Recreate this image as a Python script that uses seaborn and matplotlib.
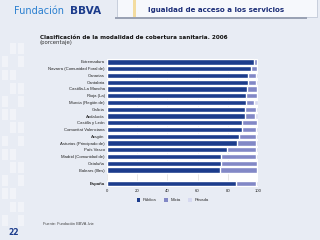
import matplotlib
matplotlib.use("Agg")
import matplotlib.pyplot as plt
import seaborn as sns
import pandas as pd
from matplotlib.patches import Rectangle, Patch

regions = ["Extremadura", "Navarra (Comunidad Foral de)", "Canarias", "Cantabria",
           "Castilla-La Mancha", "Rioja (La)", "Murcia (Región de)", "Galicia",
           "Andalucía", "Castilla y León", "Comunitat Valenciana", "Aragón",
           "Asturias (Principado de)", "País Vasco", "Madrid (Comunidad de)",
           "Cataluña", "Balears (Illes)", "España"]
publica = [97.4, 95.1, 93.4, 93.2, 93.0, 92.3, 91.9, 91.4, 91.2, 89.3, 89.6,
           87.4, 86.4, 79.6, 75.6, 75.3, 74.7, 85.5]
mixta = [1.8, 4.2, 5.5, 5.8, 6.2, 6.8, 5.5, 7.6, 6.8, 9.8, 9.4,
         11.6, 12.6, 19.2, 22.8, 24.0, 24.5, 13.4]
privada = [round(100 - p - m, 1) for p, m in zip(publica, mixta)]
series = ["Pública", "Mixta", "Privada"]
xticks = [0, 20, 40, 60, 80, 100]

df = pd.DataFrame({"region": regions, "publica": publica, "mixta": mixta, "privada": privada})
df["c_mixta"] = df["publica"] + df["mixta"]
df["c_total"] = df["c_mixta"] + df["privada"]
order = regions[:-1] + [" "] + ["España"]

c_pub, c_mix, c_pri = "#1c3c8c", "#8288c6", "#d6d9f0"
bg = "#e8ecf4"

sns.set_theme(style="white")
plt.rcParams['font.family'] = ['Liberation Sans', 'DejaVu Sans']

fig = plt.figure(figsize=(3.2, 2.4), dpi=100)
fig.patch.set_facecolor(bg)

# decorative left squares
for i in range(14):
    for j in range(3):
        if (i + j) % 3 != 1:
            fig.patches.append(Rectangle((0.005 + j * 0.025, 0.06 + i * 0.055), 0.02, 0.045,
                                         transform=fig.transFigure, facecolor="#f1f3f8",
                                         edgecolor="none", zorder=0))

ax = fig.add_axes([0.334, 0.221, 0.472, 0.535])
ax.set_facecolor("white")
sns.barplot(data=df, y="region", x="c_total", order=order, color=c_pri, width=0.8,
            orient="h", ax=ax, saturation=1, zorder=2)
sns.barplot(data=df, y="region", x="c_mixta", order=order, color=c_mix, width=0.8,
            orient="h", ax=ax, saturation=1, zorder=3)
sns.barplot(data=df, y="region", x="publica", order=order, color=c_pub, width=0.8,
            orient="h", ax=ax, saturation=1, zorder=4)

ax.set_xlim(0, 100)
ax.set_xticks(xticks)
ax.set_xticklabels([str(t) for t in xticks])
ax.set_xlabel("")
ax.set_ylabel("")
ax.grid(axis="x", color="#d4d4d4", linewidth=0.4, zorder=0)
ax.set_axisbelow(True)
for s in ax.spines.values():
    s.set_visible(False)
ax.tick_params(axis="both", length=0, labelsize=3.1, colors="#222222", pad=1.5)
for lbl in ax.get_yticklabels():
    if lbl.get_text() == "España":
        lbl.set_fontweight("bold")

handles = [Patch(facecolor=c, edgecolor="none") for c in (c_pub, c_mix, c_pri)]
fig.legend(handles, series, loc="center", bbox_to_anchor=(0.54, 0.165), ncol=3,
           frameon=False, fontsize=3.1, handlelength=0.8, handleheight=0.8,
           columnspacing=1.8, handletextpad=0.6)

# header
fig.patches.append(Rectangle((0.365, 0.93), 0.625, 0.075, transform=fig.transFigure,
                             facecolor="#f6f8fc", edgecolor="#b8c0d0", linewidth=0.5, zorder=1))
fig.patches.append(Rectangle((0.36, 0.92), 0.6, 0.008, transform=fig.transFigure,
                             facecolor="#9aa2b4", edgecolor="none", zorder=1))
fig.patches.append(Rectangle((0.415, 0.93), 0.01, 0.07, transform=fig.transFigure,
                             facecolor="#f3dca0", edgecolor="none", zorder=1))
fig.text(0.044, 0.953, "Fundación", color="#2a7fd0", fontsize=7.0, va="center", ha="left",
         family=["DejaVu Sans"])
fig.text(0.219, 0.953, "BBVA", color="#1c3c8c", fontsize=7.6, fontweight="bold",
         va="center", ha="left", family=["DejaVu Sans"])
fig.text(0.674, 0.958, "Igualdad de acceso a los servicios", color="#1c2e78",
         fontsize=5.1, fontweight="bold", va="center", ha="center", family=["DejaVu Sans"])

fig.text(0.125, 0.842, "Clasificación de la modalidad de cobertura sanitaria. 2006",
         fontsize=4.1, fontweight="bold", color="#111111", va="center", ha="left",
         family=["DejaVu Sans"])
fig.text(0.125, 0.822, "(porcentaje)", fontsize=3.9, color="#333333", va="center", ha="left",
         family=["DejaVu Sans"])

fig.text(0.135, 0.067, "Fuente: Fundación BBVA-Ivie", fontsize=2.8, color="#444444",
         va="center", ha="left")
fig.text(0.025, 0.03, "22", fontsize=5.5, fontweight="bold", color="#1c3c8c",
         va="center", ha="left", family=["DejaVu Sans"])

fig.savefig("out.png", dpi=100, facecolor=fig.get_facecolor())
